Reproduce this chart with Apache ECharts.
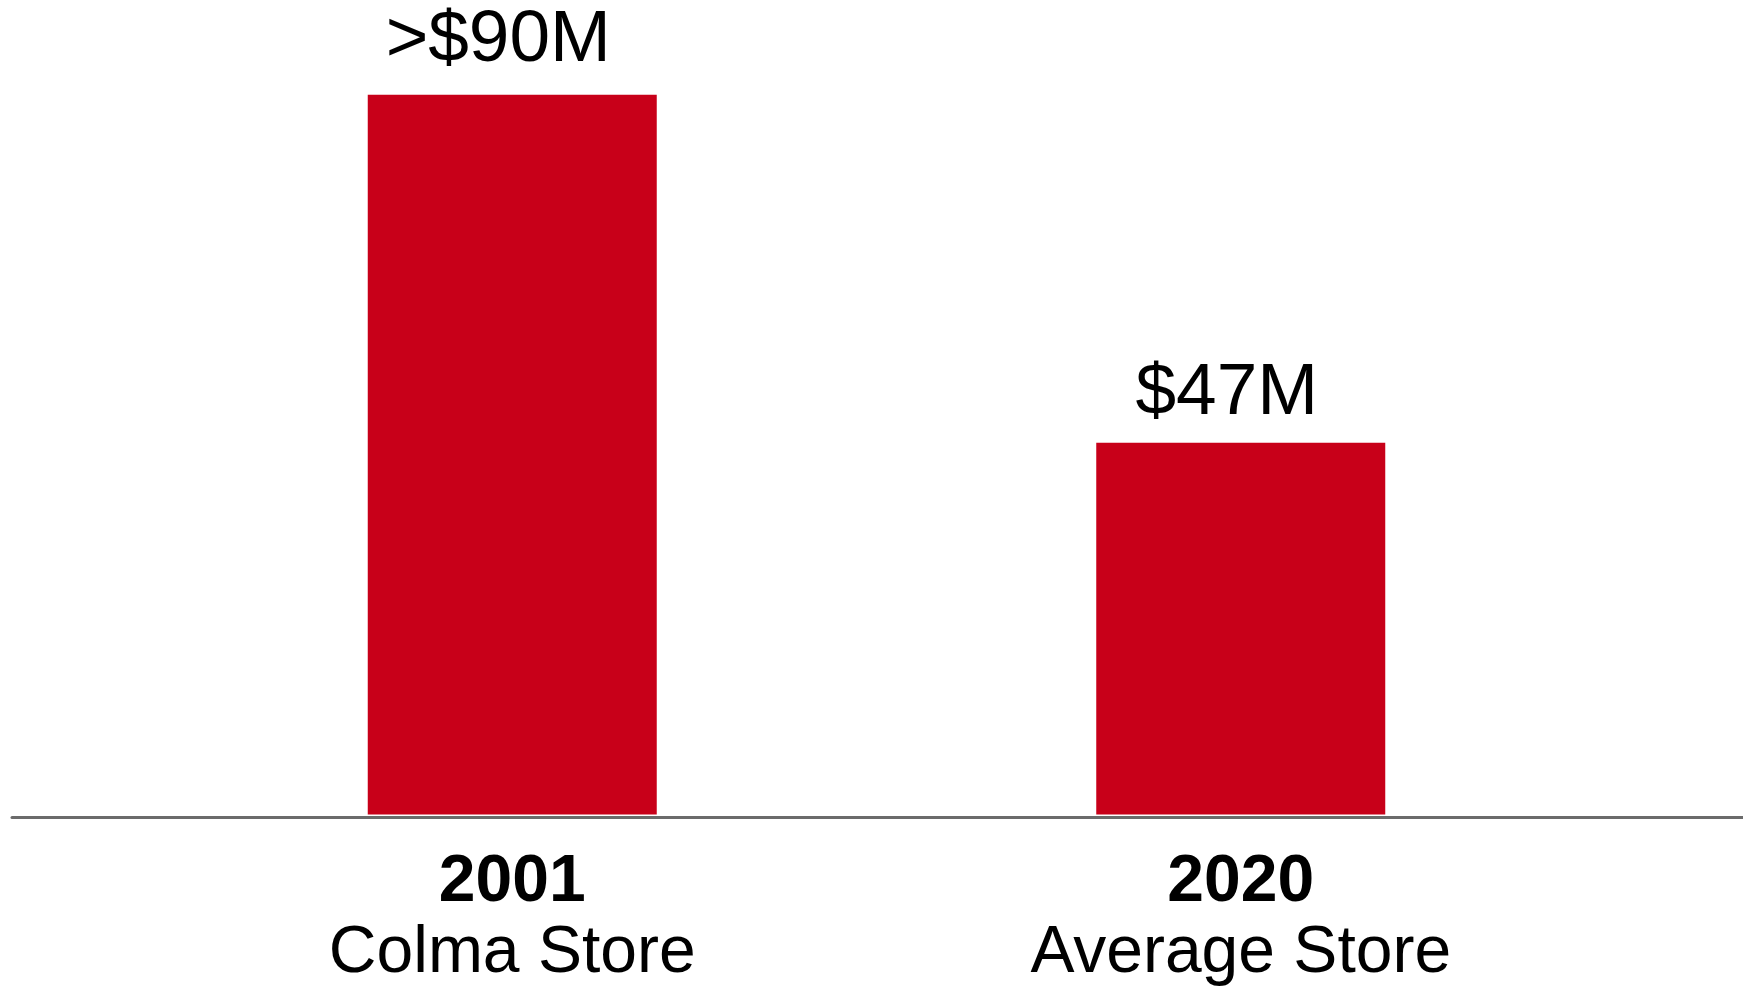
<!DOCTYPE html>
<html>
<head>
<meta charset="utf-8">
<style>
  html, body { margin: 0; padding: 0; background: #ffffff; }
  #chart { width: 1743px; height: 987px; }
</style>
<script src="https://cdn.jsdelivr.net/npm/echarts@6/dist/echarts.min.js"></script>
</head>
<body>
<div id="chart"></div>
<script>
// Annual sales per store, in millions of dollars
const years = ['2001', '2020'];
const storeNames = ['Colma Store', 'Average Store'];
const salesMillions = [91, 47];
const valueLabels = ['>$90M', '$47M'];

const FONT = '"Liberation Sans", Arial, Helvetica, sans-serif';
const BAR_RED = '#C80019';

const chart = echarts.init(document.getElementById('chart'), null, { renderer: 'canvas' });

const option = {
  backgroundColor: '#ffffff',
  animation: false,
  grid: [
    // full-width baseline
    { left: 12, right: 0, top: 24, bottom: 169.5 },
    // plotting area for the bars
    { left: 148, right: 138, top: 23.7, bottom: 171 }
  ],
  xAxis: [
    {
      gridIndex: 0,
      type: 'value',
      min: 0,
      max: 1,
      axisLine: { show: true, onZero: false, lineStyle: { color: '#6b6b6b', width: 3 } },
      axisTick: { show: false },
      axisLabel: { show: false },
      splitLine: { show: false }
    },
    {
      gridIndex: 1,
      type: 'category',
      data: years,
      boundaryGap: true,
      axisLine: { show: false },
      axisTick: { show: false },
      axisLabel: {
        margin: 33,
        interval: 0,
        formatter: function (value, idx) {
          return '{y|' + value + '}\n{n|' + storeNames[idx] + '}';
        },
        rich: {
          y: { fontFamily: FONT, fontSize: 66, fontWeight: 'bold', color: '#000', lineHeight: 71 },
          n: { fontFamily: FONT, fontSize: 66, color: '#000', lineHeight: 71 }
        }
      }
    }
  ],
  yAxis: [
    { gridIndex: 0, type: 'value', min: 0, max: 1, show: false },
    { gridIndex: 1, type: 'value', min: 0, max: 100, show: false }
  ],
  series: [
    {
      type: 'bar',
      xAxisIndex: 1,
      yAxisIndex: 1,
      barWidth: 289,
      itemStyle: { color: BAR_RED },
      data: salesMillions.map(function (v, i) {
        return {
          value: v,
          label: { distance: i === 0 ? 17 : 12 }
        };
      }),
      label: {
        show: true,
        position: 'top',
        offset: [-14, 0],
        fontFamily: FONT,
        fontSize: 73,
        color: '#000',
        formatter: function (p) { return valueLabels[p.dataIndex]; }
      }
    }
  ]
};

chart.setOption(option);
</script>
</body>
</html>
